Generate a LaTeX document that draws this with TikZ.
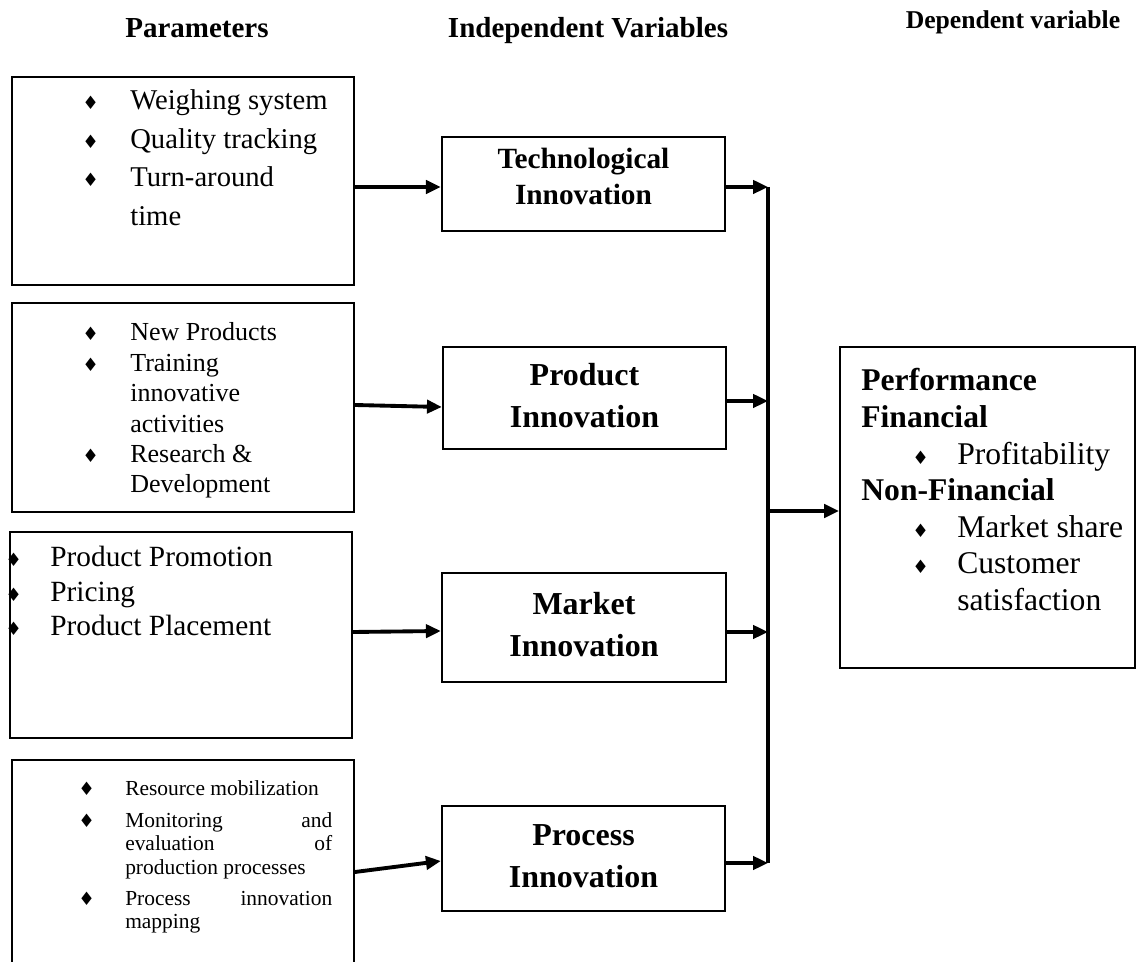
\documentclass[tikz,border=0pt]{standalone}
\usepackage{fontspec}
\setmainfont{Liberation Serif}
\newfontfamily\symbfont{DejaVu Sans}
\usetikzlibrary{arrows.meta,fit}

\newcommand\dia{{\symbfont\fontsize{10.5}{10}\selectfont ♦}}
\newcommand\fsz[2]{\fontsize{#1}{#2}\selectfont}

\tikzset{
  pbox/.style={draw, line width=1.1pt, inner sep=0pt},
  ibox/.style={draw, line width=1.3pt, inner sep=0pt},
  itxt/.style={align=center, inner sep=0pt, font=\bfseries\fsz{18.2}{23.9}},
  arr/.style={-{Triangle[length=8.5pt,width=7.5pt]}, line width=2.2pt},
  head/.style={font=\bfseries\fsz{16.5}{20}},
  lst/.style={anchor=base west, inner sep=0pt, align=left},
}

\begin{document}
\begin{tikzpicture}[x=0.02cm, y=-0.02cm]
    \useasboundingbox (0,0) rectangle (1137,962);

    % column headings
    \node[head] (hpar) at (197,28) {Parameters};
    \node[head] (hind) at (588,31) {Independent Variables};
    \node[head, font=\bfseries\fsz{14.6}{18}] (hdep) at (1013,22) {Dependent variable};

    % parameter boxes
    \node[pbox, fit={(12,77) (354,285)}] (par1) {};
    \node[lst, font=\fsz{16.3}{21.9}] (par1t) at (82,110)
        {\begin{tabular}[t]{@{}p{27.3pt}@{}l@{}}
         \dia & Weighing system\\
         \dia & Quality tracking\\
         \dia & Turn-around\\
              & time
         \end{tabular}};

    \node[pbox, fit={(12,303) (354,512)}] (par2) {};
    \node[lst, font=\fsz{14.8}{17.3}] (par2t) at (82,341)
        {\begin{tabular}[t]{@{}p{27.3pt}@{}l@{}}
         \dia & New Products\\
         \dia & Training\\
              & innovative\\
              & activities\\
         \dia & Research \&\\
              & Development
         \end{tabular}};

    \node[pbox, fit={(10,532) (352,738)}] (par3) {};
    \node[lst, font=\fsz{16.7}{19.6}] (par3t) at (5,567)
        {\begin{tabular}[t]{@{}p{25.6pt}@{}l@{}}
         \dia & Product Promotion\\
         \dia & Pricing\\
         \dia & Product Placement
         \end{tabular}};

    \node[pbox, fit={(12,760) (354,966)}] (par4) {};
    \node[lst, font=\fsz{12.2}{13.4}] (par4t) at (78,796)
        {\begin{tabular}[t]{@{}p{26.7pt}@{}l@{}}
         \dia & Resource mobilization\\[4.3pt]
         \dia & \makebox[117.8pt][s]{Monitoring\hfill and}\\
              & \makebox[117.8pt][s]{evaluation\hfill of}\\
              & production processes\\[4.3pt]
         \dia & \makebox[117.8pt][s]{Process\hfill innovation}\\
              & mapping
         \end{tabular}};

    % independent variables
    \node[ibox, fit={(442,137) (725,231)}] (tech) {};
    \node[itxt, font=\bfseries\fsz{16.7}{20.5}] (techt) at ([yshift=4.5pt]tech.center)
        {Technological\\Innovation};
    \node[ibox, fit={(443,347) (726,449)}] (prod) {};
    \node[itxt] (prodt) at ([yshift=1.2pt]prod.center) {Product\\Innovation};
    \node[ibox, fit={(442,573) (726,682)}] (mkt) {};
    \node[itxt] (mktt) at ([yshift=1.5pt]mkt.center) {Market\\Innovation};
    \node[ibox, fit={(442,806) (725,911)}] (proc) {};
    \node[itxt] (proct) at ([yshift=1.5pt]proc.center) {Process\\Innovation};

    % dependent variable
    \node[pbox, fit={(840,347) (1135,668)}] (perf) {};
    \node[lst, font=\fsz{18}{20.8}] (perft) at (861,391)
        {\begin{tabular}[t]{@{}p{54.6pt}@{}l@{}}
         \multicolumn{2}{@{}l@{}}{\bfseries Performance}\\
         \multicolumn{2}{@{}l@{}}{\bfseries Financial}\\
         \hspace*{29pt}\dia & Profitability\\
         \multicolumn{2}{@{}l@{}}{\bfseries Non-Financial}\\
         \hspace*{29pt}\dia & Market share\\
         \hspace*{29pt}\dia & Customer\\
              & satisfaction
         \end{tabular}};

    % collecting line
    \coordinate (bustop) at (768,187);
    \coordinate (busbot) at (768,863);
    \draw[line width=2.2pt] (bustop) -- (busbot);

    % arrows
    \draw[arr] (par1.east |- 0,187) -- (tech.west |- 0,187);
    \draw[arr] (par2.east |- 0,405) -- (prod.west |- 0,407);
    \draw[arr] (par3.east |- 0,632) -- (mkt.west |- 0,631);
    \draw[arr] (par4.east |- 0,872) -- (proc.west |- 0,861);

    \draw[arr] (tech.east |- bustop) -- (bustop);
    \draw[arr] (prod.east |- 0,401) -- (bustop |- 0,401);
    \draw[arr] (mkt.east |- 0,632) -- (bustop |- 0,632);
    \draw[arr] (proc.east |- busbot) -- (busbot);

    \draw[arr] (bustop |- 0,511) -- (perf.west |- 0,511);
\end{tikzpicture}
\end{document}
